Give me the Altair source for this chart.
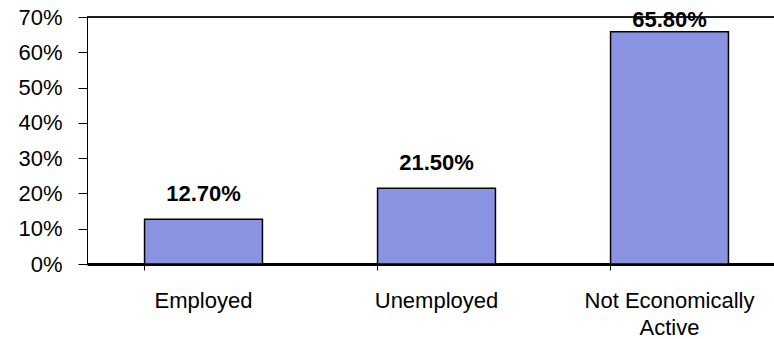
import altair as alt
import pandas as pd

categories = ["Employed", "Unemployed", "Not Economically Active"]
values = [0.127, 0.215, 0.658]
y_ticks = [0, 0.1, 0.2, 0.3, 0.4, 0.5, 0.6, 0.7]

df = pd.DataFrame({"category": categories, "value": values})

FONT = "Liberation Sans"

x_scale = alt.Scale(range=[0, 699], paddingInner=0.494, paddingOuter=0.247)
x_axis = alt.Axis(labelAngle=0, labelFont=FONT, labelFontSize=22, labelColor="black",
                  domainColor="black", domainWidth=3, tickColor="black", tickSize=6,
                  tickWidth=1, bandPosition=0, labelPadding=20, labelLineHeight=27,
                  labelBaseline="top", labelOverlap=False,
                  labelExpr="datum.label == 'Not Economically Active' ? ['Not Economically', 'Active'] : datum.label")
y_scale = alt.Scale(domain=[0, 0.70], nice=False)
y_axis = alt.Axis(format=".0%", values=y_ticks,
                  labelFont=FONT, labelFontSize=22, labelColor="black", grid=False,
                  labelOverlap=False, domainColor="black", domainWidth=1,
                  tickColor="black", tickSize=9, labelPadding=16)

bars = alt.Chart(df).mark_bar(color="#8A93E1", stroke="black", strokeWidth=1.5).encode(
    x=alt.X("category:N", sort=categories, title=None, scale=x_scale, axis=x_axis),
    y=alt.Y("value:Q", title=None, scale=y_scale, axis=y_axis))

labels = alt.Chart(df).transform_calculate(
    ly="min(datum.value, 0.621)",
    txt="format(datum.value, '.2%')"
).mark_text(font=FONT, fontSize=22, fontWeight="bold", color="black",
            baseline="bottom", dy=-13).encode(
    x=alt.X("category:N", sort=categories, title=None, scale=x_scale, axis=x_axis),
    y=alt.Y("ly:Q", title=None, scale=y_scale, axis=y_axis),
    text="txt:N")

top = alt.Chart(df).mark_rule(color="black", strokeWidth=1).encode(
    x=alt.value(0), x2=alt.value(700), y=alt.value(0))

chart = alt.layer(bars, labels, top).properties(
    width=687, height=247,
    padding={"left": 87, "top": 17, "right": 0, "bottom": 75},
    autosize=alt.AutoSizeParams(type="none")
).configure_view(stroke=None).configure(background="white")

chart.save("out.html", embed_options={"renderer": "svg", "actions": False})
